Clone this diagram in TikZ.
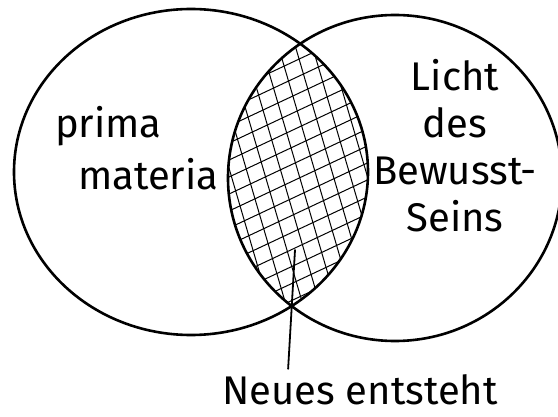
\documentclass[tikz,border=0pt]{standalone}
\usepackage{fontspec}
\setmainfont{Fira Sans}

\begin{document}
\begin{tikzpicture}[x=1pt,y=-1pt,
	kreis/.style={line width=2.6pt, line cap=round},
	schraffur/.style={line width=1pt},
	schrift/.style={font=\fontsize{40}{47}\selectfont, inner sep=0pt}]
		\useasboundingbox (0,0) rectangle (558,417);
		% Schnittmenge
		\begin{scope}
			\clip (191,172) ellipse [x radius=177, y radius=163];
			\clip (395,178) ellipse [x radius=167, y radius=163];
			\foreach \x in {180,197,...,420}
				\draw[schraffur] (\x-60,-30) -- (\x+60,380);
			\foreach \y in {10,27,...,340}
				\draw[schraffur] (195,\y+47) -- (395,\y-47);
		\end{scope}
		
		\draw[kreis] (191,172) ellipse [x radius=177, y radius=163];
		\draw[kreis] (395,178) ellipse [x radius=167, y radius=163];
		
		\node[schrift, anchor=base west] (prima) at (55,138) {prima};
		\node[schrift, anchor=base west] (materia) at (78,190) {materia};
		\node[schrift, align=center] (licht) at (455,146) {Licht\\des\\Bewusst-\\Seins};
		\node[schrift, anchor=base] (neues) at (360,405) {Neues entsteht};
		
		\coordinate (keim) at (295,250);
		\draw[kreis, line width=1.8pt] (keim) -- ([xshift=66pt, yshift=6pt]neues.north west);
	\end{tikzpicture}
\end{document}
